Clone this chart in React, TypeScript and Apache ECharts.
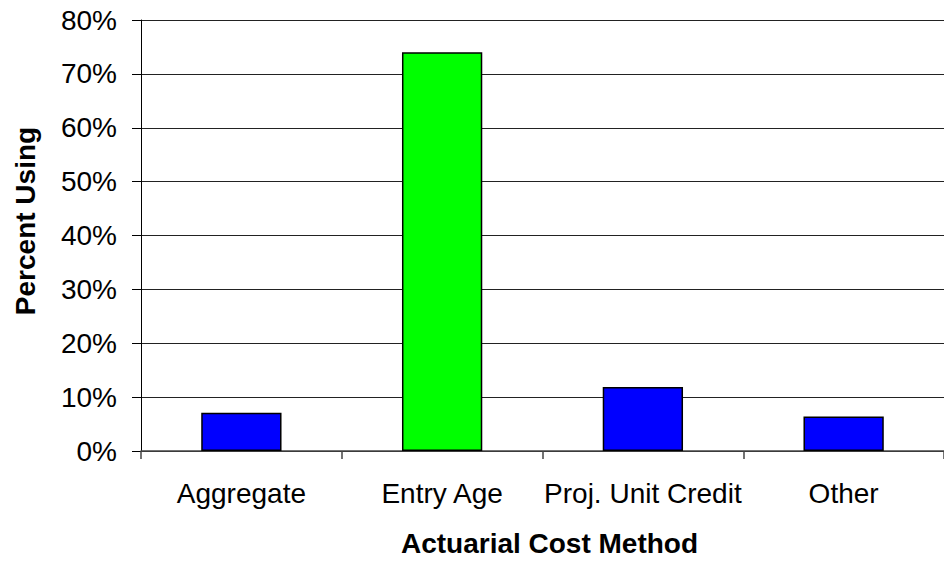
import React, { useEffect, useRef } from "react";
import * as echarts from "echarts";

const categories = ["Aggregate", "Entry Age", "Proj. Unit Credit", "Other"];
const percentUsing = [7.1, 74.0, 11.9, 6.4];
const barColors = ["#0000FF", "#00FF00", "#0000FF", "#0000FF"];
const yTicks = { min: 0, max: 80, interval: 10 };

const FONT = "'Liberation Sans', Arial, Helvetica, sans-serif";

export default function App() {
  const ref = useRef<HTMLDivElement>(null);
  useEffect(() => {
    if (!ref.current) return;
    const chart = echarts.init(ref.current, undefined, { renderer: "svg" });
    chart.setOption({
      animation: false,
      backgroundColor: "#ffffff",
      grid: { left: 141, top: 20, bottom: 106, width: 814, containLabel: false },
      xAxis: {
        type: "category",
        data: categories,
        name: "Actuarial Cost Method",
        nameLocation: "middle",
        nameGap: 78,
        nameTextStyle: {
          fontFamily: FONT,
          fontSize: 28,
          fontWeight: "bold",
          color: "#000",
          padding: [0, 0, 0, 14],
        },
        axisLine: { show: true, lineStyle: { color: "#444", width: 1.5 } },
        axisTick: { show: true, length: 8, lineStyle: { color: "#444", width: 1.5 } },
        axisLabel: { fontFamily: FONT, fontSize: 28, color: "#000", margin: 28, interval: 0 },
        splitLine: { show: false },
      },
      yAxis: {
        type: "value",
        min: yTicks.min,
        max: yTicks.max,
        interval: yTicks.interval,
        name: "Percent Using",
        nameLocation: "middle",
        nameGap: 102,
        nameTextStyle: {
          fontFamily: FONT,
          fontSize: 28,
          fontWeight: "bold",
          color: "#000",
          padding: [0, 0, 0, 29],
        },
        axisLine: { show: true, lineStyle: { color: "#000", width: 1 } },
        axisTick: { show: true, length: 9, lineStyle: { color: "#000", width: 1 } },
        axisLabel: {
          fontFamily: FONT,
          fontSize: 28,
          color: "#000",
          margin: 24,
          formatter: "{value}%",
        },
        splitLine: { show: true, lineStyle: { color: "#222", width: 1 } },
      },
      series: [
        {
          type: "bar",
          barWidth: "40%",
          data: percentUsing.map((v, i) => ({
            value: v,
            itemStyle: { color: barColors[i], borderColor: "#000", borderWidth: 1.5 },
          })),
        },
      ],
    });
    return () => chart.dispose();
  }, []);
  return (
    <div
      ref={ref}
      style={{ position: "absolute", left: 0, top: 0, width: 944, height: 562 }}
    />
  );
}
